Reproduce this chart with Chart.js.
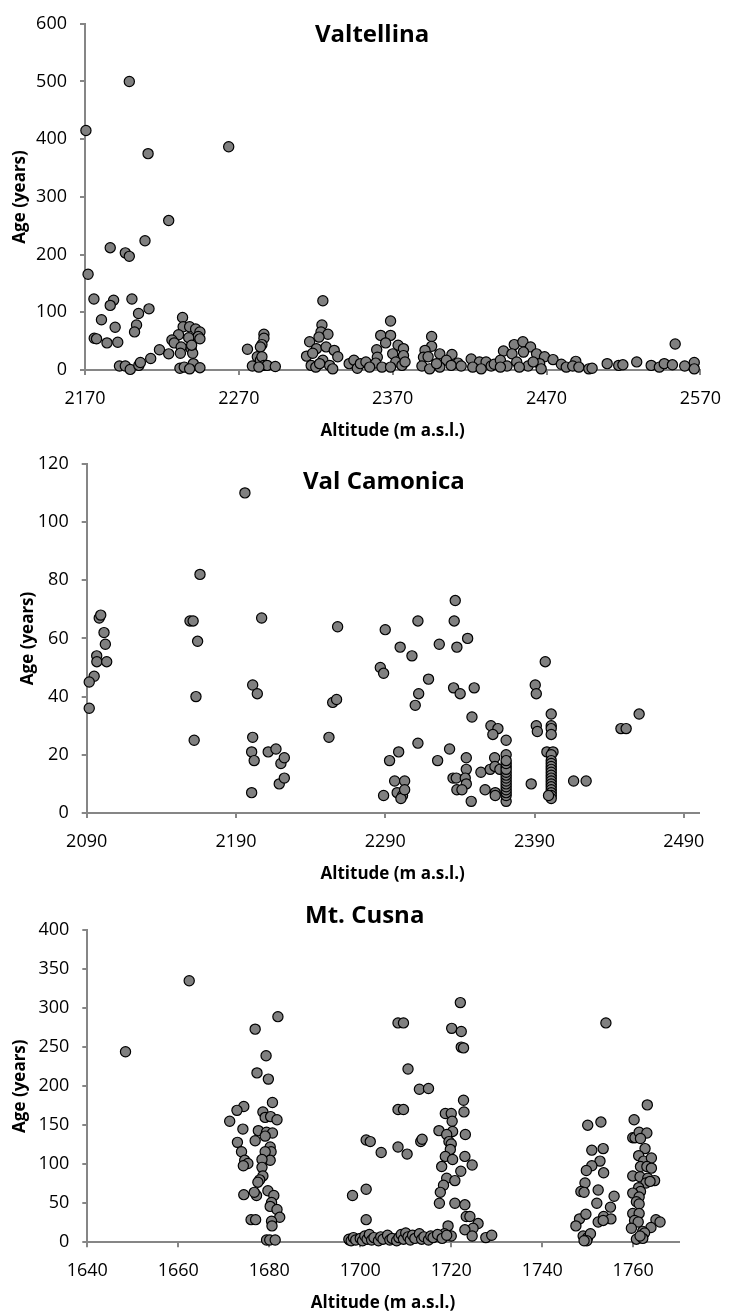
<!DOCTYPE html>
<html><head><meta charset="utf-8">
<script src="https://cdn.jsdelivr.net/npm/chart.js@4/dist/chart.umd.min.js"></script>
<style>
html,body{margin:0;padding:0;background:#fff;width:734px;height:1315px;overflow:hidden}
canvas{position:absolute;left:0}
</style></head>
<body>
<canvas id="c1" width="734" height="440" style="top:0px"></canvas>
<canvas id="c2" width="734" height="445" style="top:440px"></canvas>
<canvas id="c3" width="734" height="430" style="top:885px"></canvas>
<script>
// ---------------- DATA ----------------
const valtellinaAltitude = [2170.6,2198.8,2211,2263.4,2224.4,2172,2186.4,2196.2,2198.8,2209,2175.8,2188.6,2186.4,2200.5,2211.6,2204.8,2180.7,2189.6,2203.5,2202.2,2176,2177.5,2184.3,2191.3,2192.4,2196.2,2199.4,2205,2206,2212.7,2218.4,2224.4,2233.4,2233.8,2230.8,2226.5,2228,2238,2241.9,2244.7,2243.6,2244.7,2237.4,2232.5,2239,2232,2240,2239.3,2231.7,2234.5,2240.4,2244.7,2238,2275.6,2278.8,2282,2284,2286.3,2286.3,2285,2284,2285,2286.3,2288.4,2293.7,2283,2324.6,2324,2323.4,2327.9,2316,2322.1,2320.4,2326.7,2314,2332,2334.3,2318,2317,2320,2324.6,2329,2331,2322.5,2341.7,2344.8,2347,2349,2352.6,2368.6,2362.2,2368.6,2359.6,2365.4,2373.5,2377,2370,2360,2377,2359,2372,2363,2368.6,2376,2378,2355,2395.3,2395.3,2391,2390,2400.6,2393,2408.5,2404.9,2412.4,2389,2394,2400.6,2408,2398.5,2414.5,2421,2426.4,2430.7,2422,2427.5,2434,2436,2442,2449,2454.6,2459.6,2447.5,2463.5,2455,2440,2468.7,2444.3,2450.6,2458,2465.5,2452.3,2440,2466.5,2474.2,2461.3,2479.6,2482.8,2489,2487,2491,2497.5,2499.6,2509.4,2516.9,2519.6,2528.6,2538,2543.3,2546.5,2551.8,2553.6,2559.8,2566,2566];
const valtellinaAge = [415,500,375,387,259,166,212,203,197,224,123,121,112,123,106,98,87,74,78,66,55,54,47,48,7,7,1,8,13,20,35,28,91,75,61,52,47,75,71,66,58,54,56,40,37,29,29,43,3,5,11,4,2,36,7,23,17,62,55,44,40,23,8,8,6,5,120,78,66,62,49,57,37,40,24,34,23,29,8,5,17,8,2,11,11,17,3,11,14,85,60,60,35,47,43,37,28,22,25,12,14,5,5,8,14,5,58,41,34,22,28,23,27,17,12,7,2,5,8,11,7,19,14,14,5,2,7,10,33,44,49,40,28,28,31,17,23,7,14,7,11,5,5,2,18,14,10,5,15,7,5,2,3,11,8,9,14,8,5,11,9,45,7,13,2];
const valtellinaXTicks = [2170,2270,2370,2470,2570];
const valtellinaYTicks = [0,100,200,300,400,500,600];

const camonicaAltitude = [2196,2165.9,2159.2,2161.3,2164.3,2207.2,2258.1,2098.4,2099.4,2101.6,2102.5,2096.7,2096.8,2103.4,2095,2091.7,2091.7,2163.2,2162,2201.2,2204.3,2201.2,2200.5,2202.2,2200.5,2211.6,2216.8,2220.1,2222.4,2219,2222.4,2252.3,2254.8,2257.4,2336.9,2336.2,2311.9,2290,2300,2326.2,2338,2345.2,2307.9,2286.7,2288.9,2397.2,2319,2335.8,2340.2,2349.6,2312.4,2310.1,2390.5,2391.2,2348.1,2401.2,2401.2,2401.2,2401.2,2391.2,2391.9,2360.8,2365.5,2362.1,2371,2371,2447.9,2451.4,2460.1,2311.9,2299,2292.9,2333.1,2325.1,2344.3,2344.3,2363.3,2398.3,2402.4,2401.2,2401.2,2401.2,2401.2,2401.2,2401.2,2401.2,2401.2,2401.2,2401.2,2401.2,2401.2,2401.2,2401.2,2401.2,2354.1,2360.3,2363.5,2366.8,2371,2371,2371,2371,2371,2371,2371,2371,2371,2371,2371,2371,2371,2371,2335.4,2337.6,2343.6,2344.3,2338,2341.4,2347.6,2356.9,2363.7,2363.7,2296.3,2303,2298,2301.6,2300.5,2288.9,2303,2387.8,2416.2,2424.6,2399.4];
const camonicaAge = [110,82,66,66,59,67,64,67,68,62,58,54,52,52,47,45,36,40,25,44,41,26,21,18,7,21,22,17,19,10,12,26,38,39,73,66,66,63,57,58,57,60,54,50,48,52,46,43,41,43,41,37,44,41,33,34,30,29,27,30,28,30,29,27,25,20,29,29,34,24,21,18,22,18,19,15,19,21,21,20,18,17,16,15,14,13,12,11,10,9,8,7,6,5,14,15,16,15,16,4,6,7,8,9,10,11,12,13,14,15,17,18,12,12,12,10,8,8,4,8,7,6,11,11,7,6,5,6,8,10,11,11,6];
const camonicaXTicks = [2090,2190,2290,2390,2490];
const camonicaYTicks = [0,20,40,60,80,100,120];

const cusnaAltitude = [1648.4,1662.4,1681.9,1676.9,1679.3,1677.3,1679.8,1680.7,1674.4,1672.9,1671.3,1678.6,1679.1,1680.3,1681.7,1674.2,1673,1676.9,1677.6,1679.4,1680.7,1679.1,1680.2,1680.4,1679.1,1673.9,1674.6,1675.3,1674.3,1680.2,1678.4,1678.4,1678.6,1677.9,1677.5,1674.4,1677.2,1676.7,1679.7,1681,1680.5,1680.2,1681.7,1682.3,1676,1677,1680.5,1680.6,1679.4,1680.1,1681.3,
1697.6,1698.3,1701.3,1701.3,1722,1754,1708.3,1709.5,1720.1,1722.2,1722.2,1722.7,1710.5,1713,1715,1722.7,1722.8,1718.7,1720,1720.2,1717.3,1720.3,1723.1,1719,1719.5,1720,1719.8,1718.7,1720.3,1723,1724.6,1717.9,1722.1,1719,1720.8,1718.3,1717.6,1717.4,1720.8,1723,1723.3,1724.1,1725.9,1724.8,1723,1724.6,1727.6,1728.9,1720,1719.3,1718.5,1701.3,1702.2,1704.6,1708.3,1710.3,1708.3,1709.5,1713.3,1713.6,
1697.5,1698,1698.5,1699,1700,1700.5,1701,1701.5,1702,1702.5,1703,1704,1704.5,1705,1706,1706.5,1707,1708,1708.5,1709,1709.5,1710,1710.5,1711,1711.5,1712,1713,1713.5,1714,1715,1715.5,1716,1717,1718,1719,
1750,1752.9,1750.9,1753.4,1752.7,1750.9,1749.7,1753.5,1749.4,1748.5,1749.2,1752.3,1755.8,1752,1755,1748.2,1749.6,1753.5,1755.1,1752.3,1753.4,1747.4,1749,1750,1750.6,1749.8,1749.2,
1763.1,1760.2,1759.9,1760.4,1761.3,1763,1761.6,1762.6,1761.2,1762.3,1764,1761.6,1763,1764,1759.9,1761.5,1763.2,1764.7,1762.8,1763.7,1761.2,1761.6,1759.9,1761.3,1760.7,1761.3,1759.9,1761.3,1760.3,1761.1,1765,1765.9,1763.9,1759.6,1762.1,1762.5,1760.7,1762.1,1761.5];
const cusnaAge = [244,335,289,273,239,217,209,179,174,169,155,167,160,161,157,145,128,130,143,141,140,136,122,116,116,116,105,101,98,105,106,96,85,80,77,61,60,64,66,60,51,46,42,32,29,29,27,21,3,3,3,
3,60,68,29,307,281,281,281,274,270,250,249,222,196,197,182,167,165,165,155,143,142,138,138,129,126,119,110,106,110,99,97,91,82,79,73,64,50,50,48,33,33,24,18,16,8,6,9,8,21,11,131,129,115,122,113,170,170,129,132,
4,2,6,3,5,2,8,4,10,3,6,2,7,4,9,3,5,2,6,10,4,12,7,3,9,5,11,4,7,3,8,6,10,5,9,
150,154,118,120,104,98,92,89,76,65,64,67,59,50,45,30,36,33,30,26,28,21,8,6,11,2,2,
176,157,134,134,141,140,133,120,111,104,108,97,97,95,85,84,82,79,76,78,70,65,63,58,52,49,37,37,28,26,29,26,19,18,14,12,4,5,8];
const cusnaXTicks = [1640,1660,1680,1700,1720,1740,1760];
const cusnaYTicks = [0,50,100,150,200,250,300,350,400];

// ---------------- STYLE ----------------
const AXIS = '#868686';
const FONT = '"Open Sans", "Noto Sans", sans-serif';

const textPlugin = {
  id: 'texts',
  afterDraw(chart, args, o) {
    const ctx = chart.ctx, a = chart.chartArea;
    ctx.save();
    ctx.fillStyle = '#000';
    ctx.textBaseline = 'alphabetic';
    ctx.font = 'bold 24px ' + FONT;
    ctx.textAlign = 'left';
    ctx.fillText(o.title, o.titleX, o.titleY);
    ctx.font = 'bold 17px ' + FONT;
    ctx.textAlign = 'center';
    ctx.fillText(o.xTitle, (a.left + a.right) / 2, a.bottom + 65.5);
    ctx.translate(o.yTitleX, (a.top + a.bottom) / 2);
    ctx.rotate(-Math.PI / 2);
    ctx.fillText(o.yTitle, 0, 0);
    ctx.restore();
  }
};

function makeChart(id, xs, ys, xTicks, yTicks, g, t) {
  const pts = xs.map((x, i) => ({ x: x, y: ys[i] }));
  const canvas = document.getElementById(id);
  const H = canvas.height, W = canvas.width;
  const tickCfg = (arr) => (s) => { s.ticks = arr.map(v => ({ value: v })); };
  const plain = (v) => String(v);
  return new Chart(canvas, {
    type: 'scatter',
    data: { datasets: [{
      data: pts,
      backgroundColor: '#808080',
      borderColor: '#000',
      borderWidth: 1.2,
      pointRadius: 5.1,
      pointHoverRadius: 5.1,
      clip: false
    }] },
    options: {
      responsive: false,
      animation: false,
      devicePixelRatio: 1,
      events: [],
      layout: { padding: { top: g.top, right: W - g.right, left: 0, bottom: 0 } },
      plugins: { legend: { display: false }, tooltip: { enabled: false }, title: { display: false },
        texts: t },
      scales: {
        x: {
          type: 'linear', min: g.xMin, max: g.xMax,
          afterBuildTicks: tickCfg(xTicks),
          afterFit: (s) => { s.height = H - g.bottom; },
          border: { display: true, color: AXIS, width: 2 },
          grid: { display: true, drawOnChartArea: false, drawTicks: true, tickLength: 5, color: AXIS, lineWidth: 2 },
          ticks: { color: '#000', font: { family: FONT, size: 18 }, padding: 13, maxRotation: 0, autoSkip: false, callback: plain }
        },
        y: {
          type: 'linear', min: g.yMin, max: g.yMax,
          afterBuildTicks: tickCfg(yTicks),
          afterFit: (s) => { s.width = g.left; },
          border: { display: true, color: AXIS, width: 2 },
          grid: { display: true, drawOnChartArea: false, drawTicks: true, tickLength: 5, color: AXIS, lineWidth: 2 },
          ticks: { color: '#000', font: { family: FONT, size: 18 }, padding: 13, autoSkip: false, callback: plain }
        }
      }
    },
    plugins: [textPlugin]
  });
}

makeChart('c1', valtellinaAltitude, valtellinaAge, valtellinaXTicks, valtellinaYTicks,
  { left: 85, right: 710, top: 16.7, bottom: 370, xMin: 2170, xMax: 2570, yMin: 0, yMax: 600 },
  { title: 'Valtellina', titleX: 315, titleY: 42, xTitle: 'Altitude (m a.s.l.)', yTitle: 'Age (years)', yTitleX: 25 });

makeChart('c2', camonicaAltitude, camonicaAge, camonicaXTicks, camonicaYTicks,
  { left: 86.7, right: 698.7, top: 18.5, bottom: 373, xMin: 2090, xMax: 2500, yMin: 0, yMax: 120 },
  { title: 'Val Camonica', titleX: 303, titleY: 49.3, xTitle: 'Altitude (m a.s.l.)', yTitle: 'Age (years)', yTitleX: 33 });

makeChart('c3', cusnaAltitude, cusnaAge, cusnaXTicks, cusnaYTicks,
  { left: 87.3, right: 678.7, top: 45, bottom: 357.3, xMin: 1640, xMax: 1770, yMin: 0, yMax: 400 },
  { title: 'Mt. Cusna', titleX: 305, titleY: 38.3, xTitle: 'Altitude (m a.s.l.)', yTitle: 'Age (years)', yTitleX: 25 });
</script>
</body></html>
